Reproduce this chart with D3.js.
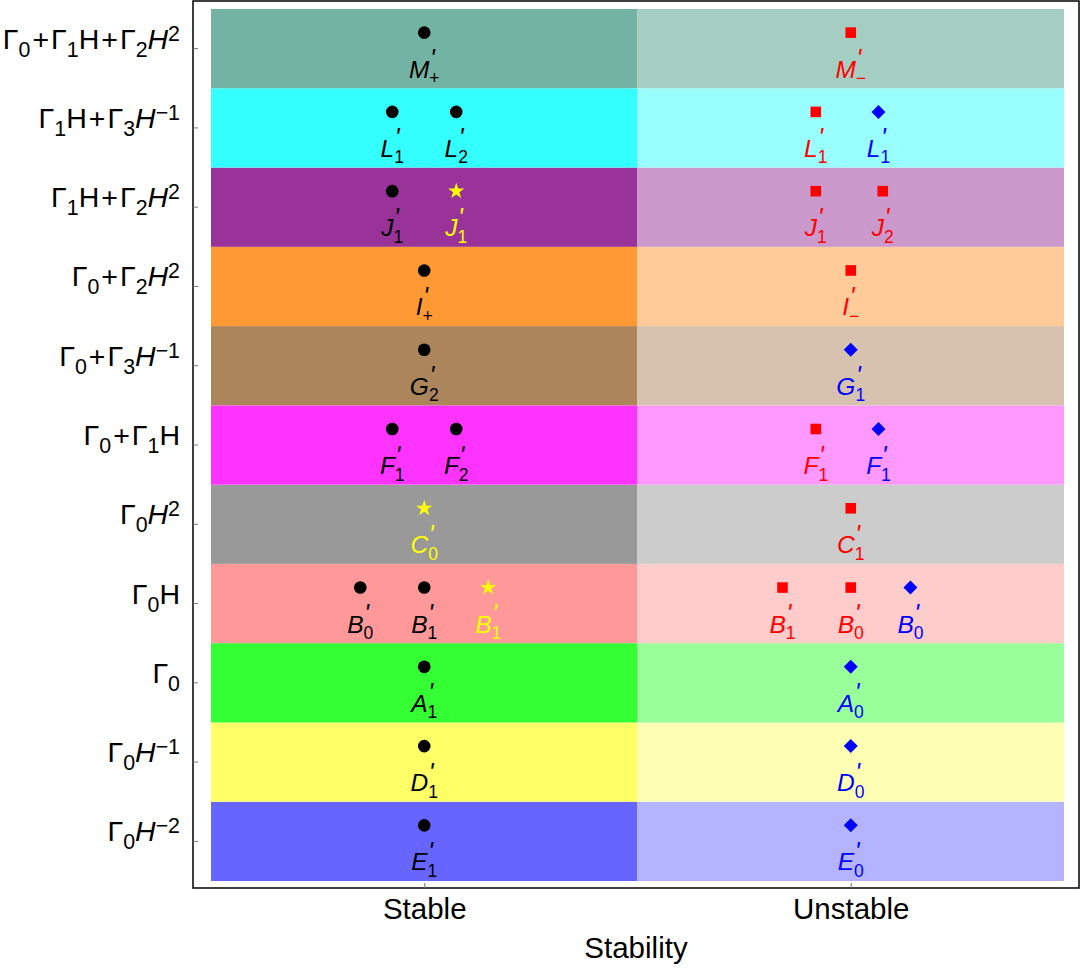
<!DOCTYPE html>
<html lang="en">
<head>
<meta charset="utf-8">
<title>Stability</title>
<script src="https://d3js.org/d3.v7.min.js"></script>
<style>
  body { margin: 0; background: #fff; }
  svg text { font-family: "Liberation Sans", Arial, sans-serif; }
</style>
</head>
<body>
<script>
// row labels from bottom to top
// "_x" = subscript char, "^{..}" = superscript, "/" toggles italic
var categories = ["Γ_0/H/^{−2}", "Γ_0/H/^{−1}", "Γ_0", "Γ_0H", "Γ_0/H/^{2}", "Γ_0+Γ_1H",
  "Γ_0+Γ_3/H/^{−1}", "Γ_0+Γ_2/H/^{2}", "Γ_1H+Γ_2/H/^{2}", "Γ_1H+Γ_3/H/^{−1}", "Γ_0+Γ_1H+Γ_2/H/^{2}"];
var stability = ["Stable", "Unstable"];

// [row index, offset from column centre, kind, letter, subscript]
var stablePoints = [
  [0, 0, "circle", "E", "1"],
  [1, 0, "circle", "D", "1"],
  [2, 0, "circle", "A", "1"],
  [3, -0.15, "circle", "B", "0"], [3, 0, "circle", "B", "1"], [3, 0.15, "star", "B", "1"],
  [4, 0, "star", "C", "0"],
  [5, -0.075, "circle", "F", "1"], [5, 0.075, "circle", "F", "2"],
  [6, 0, "circle", "G", "2"],
  [7, 0, "circle", "I", "+"],
  [8, -0.075, "circle", "J", "1"], [8, 0.075, "star", "J", "1"],
  [9, -0.075, "circle", "L", "1"], [9, 0.075, "circle", "L", "2"],
  [10, 0, "circle", "M", "+"]
];
var unstablePoints = [
  [0, 0, "diamond", "E", "0"],
  [1, 0, "diamond", "D", "0"],
  [2, 0, "diamond", "A", "0"],
  [3, -0.16, "square", "B", "1"], [3, 0, "square", "B", "0"], [3, 0.14, "diamond", "B", "0"],
  [4, 0, "square", "C", "1"],
  [5, -0.082, "square", "F", "1"], [5, 0.065, "diamond", "F", "1"],
  [6, 0, "diamond", "G", "1"],
  [7, 0, "square", "I", "−"],
  [8, -0.082, "square", "J", "1"], [8, 0.075, "square", "J", "2"],
  [9, -0.082, "square", "L", "1"], [9, 0.065, "diamond", "L", "1"],
  [10, 0, "square", "M", "−"]
];

// styling
var stableColors = ["#6666ff", "#ffff66", "#33ff33", "#ff9999", "#999999", "#ff33ff",
  "#ad855c", "#ff9933", "#993399", "#33ffff", "#73b3a3"];
var unstableColors = ["#b3b3ff", "#ffffb3", "#99ff99", "#ffcccc", "#cccccc", "#ff99ff",
  "#d6c2ae", "#ffcc99", "#cc99cc", "#99ffff", "#a5cec3"];
var kindColor = { circle: "#000000", star: "#ffff00", square: "#ff0000", diamond: "#0000ff" };
var kindSymbol = {
  circle: d3.symbol().type(d3.symbolCircle).size(125),
  star: d3.symbol().type(d3.symbolStar).size(82),
  square: d3.symbol().type(d3.symbolSquare).size(112),
  diamond: d3.symbol().type(d3.symbolSquare).size(98)
};

var W = 1082, H = 968;
var frame = { left: 193, top: 1, right: 1079, bottom: 888 };

var svg = d3.select("body").append("svg")
  .attr("width", W)
  .attr("height", H);

var x = d3.scaleLinear().domain([0.5, 2.5]).range([211, 1064]);
var y = d3.scaleBand()
  .domain(d3.range(categories.length).reverse())
  .range([9, 881]);
var bw = y.bandwidth();

// background cells
var cells = [];
categories.forEach(function(c, i) {
  stability.forEach(function(s, j) { cells.push({ row: i, col: j }); });
});
svg.append("g").selectAll("rect")
  .data(cells)
  .enter().append("rect")
  .attr("x", function(d) { return x(d.col + 0.5); })
  .attr("y", function(d) { return y(d.row); })
  .attr("width", x(1.5) - x(0.5))
  .attr("height", bw)
  .attr("fill", function(d) {
    return d.col === 0 ? stableColors[d.row] : unstableColors[d.row];
  });

// frame
svg.append("rect")
  .attr("x", frame.left).attr("y", frame.top)
  .attr("width", frame.right - frame.left)
  .attr("height", frame.bottom - frame.top)
  .attr("fill", "none")
  .attr("stroke", "#000")
  .attr("stroke-width", 1.5);

// write a label string with sub/superscripts into a text element
function richText(text, s, size) {
  var italic = false, shift = 0, i = 0, afterPlus = false;
  function add(str, fs, target, ital, dx) {
    text.append("tspan")
      .attr("font-size", fs)
      .attr("font-style", ital ? "italic" : "normal")
      .attr("dy", target - shift)
      .attr("dx", dx || 0)
      .text(str);
    shift = target;
  }
  while (i < s.length) {
    var c = s[i];
    if (c === "/") { italic = !italic; i++; continue; }
    if (c === "_") { add(s[i + 1], size * 0.75, 8, false); i += 2; continue; }
    if (c === "^") {
      var end = s.indexOf("}", i);
      add(s.slice(i + 2, end), size * 0.75, -8, false);
      i = end + 1; continue;
    }
    if (c === "+") { add("+", size, 0, false, 2); afterPlus = true; i++; continue; }
    add(c, size, 0, italic, afterPlus ? 2 : 0);
    afterPlus = false;
    i++;
  }
}

// left axis
var yAxis = svg.append("g")
  .attr("transform", "translate(" + frame.left + ",0)")
  .call(d3.axisLeft(y).tickSizeInner(-5).tickSizeOuter(0).tickPadding(13));
yAxis.select(".domain").remove();
yAxis.selectAll(".tick line").attr("stroke", "#777");
yAxis.selectAll(".tick text")
  .attr("fill", "#000")
  .attr("dy", 7)
  .each(function(d) {
    var t = d3.select(this).text("");
    richText(t, categories[d], 28.5);
  });

// bottom axis
var xAxis = svg.append("g")
  .attr("transform", "translate(0," + frame.bottom + ")")
  .call(d3.axisBottom(x).tickValues([1, 2])
    .tickFormat(function(d) { return stability[d - 1]; })
    .tickSizeInner(-5).tickSizeOuter(0).tickPadding(10));
xAxis.select(".domain").remove();
xAxis.selectAll(".tick line").attr("stroke", "#777");
xAxis.selectAll(".tick text").attr("fill", "#000").attr("font-size", 29.5);

svg.append("text")
  .attr("x", (frame.left + frame.right) / 2)
  .attr("y", 958)
  .attr("text-anchor", "middle")
  .attr("font-size", 29.5)
  .text("Stability");

// points with their labels (letter, subscript and prime in one text)
function drawPoints(list, col) {
  var g = svg.append("g").selectAll("g")
    .data(list)
    .enter().append("g")
    .attr("transform", function(d) {
      return "translate(" + x(col + d[1]) + "," + (y(d[0]) + bw / 2) + ")";
    });

  g.append("path")
    .attr("d", function(d) { return kindSymbol[d[2]](); })
    .attr("transform", function(d) {
      return "translate(0,-16)" + (d[2] === "diamond" ? " rotate(45)" : "");
    })
    .attr("fill", function(d) { return kindColor[d[2]]; });

  g.each(function(d) {
    var el = d3.select(this);
    var label = el.append("text").attr("fill", kindColor[d[2]]);
    var letter = label.append("tspan")
      .attr("y", 29)
      .attr("font-size", 24.5)
      .attr("font-style", "italic")
      .text(d[3]);
    var sub = label.append("tspan")
      .attr("y", 35.5)
      .attr("font-size", 17.5)
      .text(d[4]);
    var prime = label.append("tspan")
      .attr("y", 18.5)
      .attr("font-size", 25)
      .attr("font-style", "italic")
      .text("'");
    var wL = letter.node().getComputedTextLength();
    var wS = sub.node().getComputedTextLength();
    var wP = prime.node().getComputedTextLength();
    var start = -(wL + wS) / 2;
    letter.attr("x", start);
    sub.attr("x", start + wL);
    prime.attr("x", start + wL + 3 - wP / 2);
  });
}
drawPoints(stablePoints, 1);
drawPoints(unstablePoints, 2);
</script>
</body>
</html>
